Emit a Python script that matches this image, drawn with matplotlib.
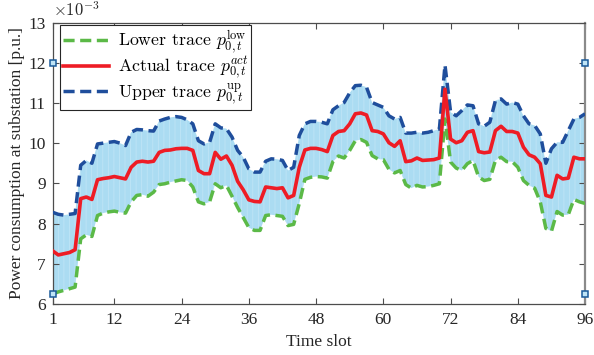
import numpy as np
import matplotlib
matplotlib.use("Agg")
import matplotlib.pyplot as plt

# power at substation, in units of 1e-3 p.u., time slots 1..96
t = np.arange(1, 97)
upper = [8.28, 8.23, 8.21, 8.23, 8.25, 9.45, 9.57, 9.5, 9.98, 10.0,
         10.02, 10.04, 10.0, 9.94, 10.27, 10.34, 10.33, 10.31, 10.3, 10.55,
         10.6, 10.64, 10.66, 10.64, 10.58, 10.48, 10.06, 9.98, 10.02, 10.48,
         10.38, 10.36, 10.15, 9.82, 9.65, 9.36, 9.28, 9.28, 9.55, 9.61,
         9.6, 9.57, 9.32, 9.4, 10.19, 10.48, 10.54, 10.54, 10.52, 10.48,
         10.83, 10.93, 11.01, 11.25, 11.43, 11.44, 11.39, 11.01, 10.95, 10.89,
         10.68, 10.6, 10.64, 10.25, 10.25, 10.27, 10.25, 10.27, 10.31, 10.35,
         11.94, 10.77, 10.68, 10.81, 10.95, 10.93, 10.48, 10.42, 10.52, 11.06,
         11.1, 10.97, 11.01, 10.97, 10.68, 10.48, 10.44, 10.23, 9.5, 9.86,
         10.02, 10.02, 10.31, 10.6, 10.64, 10.73]
actual = [7.32, 7.22, 7.25, 7.28, 7.35, 8.62, 8.66, 8.6, 9.09, 9.12,
          9.14, 9.17, 9.14, 9.11, 9.4, 9.53, 9.55, 9.53, 9.55, 9.77,
          9.82, 9.83, 9.86, 9.87, 9.87, 9.82, 9.32, 9.24, 9.24, 9.77,
          9.6, 9.68, 9.45, 9.05, 8.84, 8.59, 8.55, 8.54, 8.91, 8.89,
          8.87, 8.89, 8.64, 8.7, 9.4, 9.83, 9.87, 9.87, 9.84, 9.79,
          10.19, 10.29, 10.31, 10.48, 10.73, 10.75, 10.7, 10.31, 10.29, 10.23,
          10.01, 9.92, 10.06, 9.54, 9.56, 9.63, 9.57, 9.58, 9.59, 9.63,
          11.34, 10.1, 10.01, 10.06, 10.27, 10.31, 9.79, 9.76, 9.78, 10.31,
          10.42, 10.29, 10.29, 10.25, 9.9, 9.71, 9.65, 9.49, 8.7, 8.66,
          9.2, 9.11, 9.13, 9.65, 9.61, 9.61]
lower = [6.25, 6.3, 6.34, 6.38, 6.42, 7.62, 7.72, 7.68, 8.2, 8.26,
         8.29, 8.31, 8.28, 8.26, 8.54, 8.7, 8.72, 8.68, 8.78, 8.97,
         8.99, 9.03, 9.06, 9.09, 9.07, 8.91, 8.54, 8.49, 8.54, 8.99,
         8.89, 8.95, 8.68, 8.4, 8.15, 7.9, 7.83, 7.83, 8.2, 8.22,
         8.2, 8.18, 7.95, 7.98, 8.5, 9.1, 9.15, 9.17, 9.16, 9.13,
         9.54, 9.68, 9.63, 9.82, 10.06, 10.09, 10.02, 9.69, 9.61, 9.59,
         9.35, 9.26, 9.32, 8.97, 8.88, 8.95, 8.91, 8.92, 8.95, 8.99,
         10.6, 9.53, 9.38, 9.32, 9.49, 9.57, 9.16, 9.07, 9.1, 9.57,
         9.65, 9.54, 9.54, 9.4, 9.07, 8.95, 8.88, 8.54, 7.88, 7.81,
         8.3, 8.21, 8.22, 8.6, 8.54, 8.5]
corner_x = [1, 1, 96, 96]
corner_y = [12.0, 6.26, 12.0, 6.26]
xticks = [1, 12, 24, 36, 48, 60, 72, 84, 96]
yticks = [6, 7, 8, 9, 10, 11, 12, 13]

plt.rcParams['font.family'] = 'Liberation Serif'
plt.rcParams['mathtext.fontset'] = 'cm'
plt.rcParams['hatch.linewidth'] = 0.6
axcol = '#4d4d4d'

fig = plt.figure(figsize=(5.94, 3.55), dpi=100)
ax = fig.add_axes([0.0887, 0.1437, 0.8963, 0.7929])

ax.fill_between(t, lower, upper, facecolor='#abdcf2', edgecolor='#bfe5f6',
                hatch='|||', linewidth=0, zorder=1)
dash = (3.2, 1.6)
ax.plot(t, lower, color='#5bb947', lw=2.5, ls=(0, dash), zorder=3,
        label=r'Lower trace $p_{0,t}^{\mathrm{low}}$')
ax.plot(t, actual, color='#ee1c25', lw=2.6, zorder=4,
        label=r'Actual trace $p_{0,t}^{act}$')
ax.plot(t, upper, color='#1f4e9c', lw=2.5, ls=(0, dash), zorder=3,
        label=r'Upper trace $p_{0,t}^{\mathrm{up}}$')
ax.plot(corner_x, corner_y, ls='none', marker='s', ms=5, mfc='#bfe4f6',
        mec='#1a5a9a', mew=1.1, clip_on=False, zorder=6)

ax.set_xlim(1, 96)
ax.set_ylim(6, 13)
ax.set_xticks(xticks)
ax.set_yticks(yticks)
ax.tick_params(direction='in', top=True, right=True, labelsize=12.5,
               colors=axcol, labelcolor='#262626', length=4, width=0.8)
ax.tick_params(axis='x', pad=6)
ax.tick_params(axis='y', pad=5)
for s in ax.spines.values():
    s.set_color(axcol)
    s.set_linewidth(0.9)
ax.spines['right'].set_color('#8a8a8a')
ax.spines['right'].set_linewidth(1.6)

ax.set_xlabel('Time slot', fontsize=12.5, color='#262626', labelpad=4)
ax.set_ylabel('Power consumption at substation [p.u.]', fontsize=12.5,
              color='#262626', labelpad=2)
ax.text(0.0, 1.01, r'$\times10^{-3}$', transform=ax.transAxes,
        fontsize=12, color='#262626', ha='left', va='bottom')

leg = ax.legend(loc='upper left', bbox_to_anchor=(0.014, 0.99),
                borderaxespad=0, prop={'family': 'cmr10', 'size': 12.8},
                handlelength=2.6, handletextpad=0.5, borderpad=0.15,
                labelspacing=0.0, fancybox=False, framealpha=1,
                edgecolor='#262626')
leg.get_frame().set_linewidth(0.8)

fig.savefig('out.png', dpi=100)
